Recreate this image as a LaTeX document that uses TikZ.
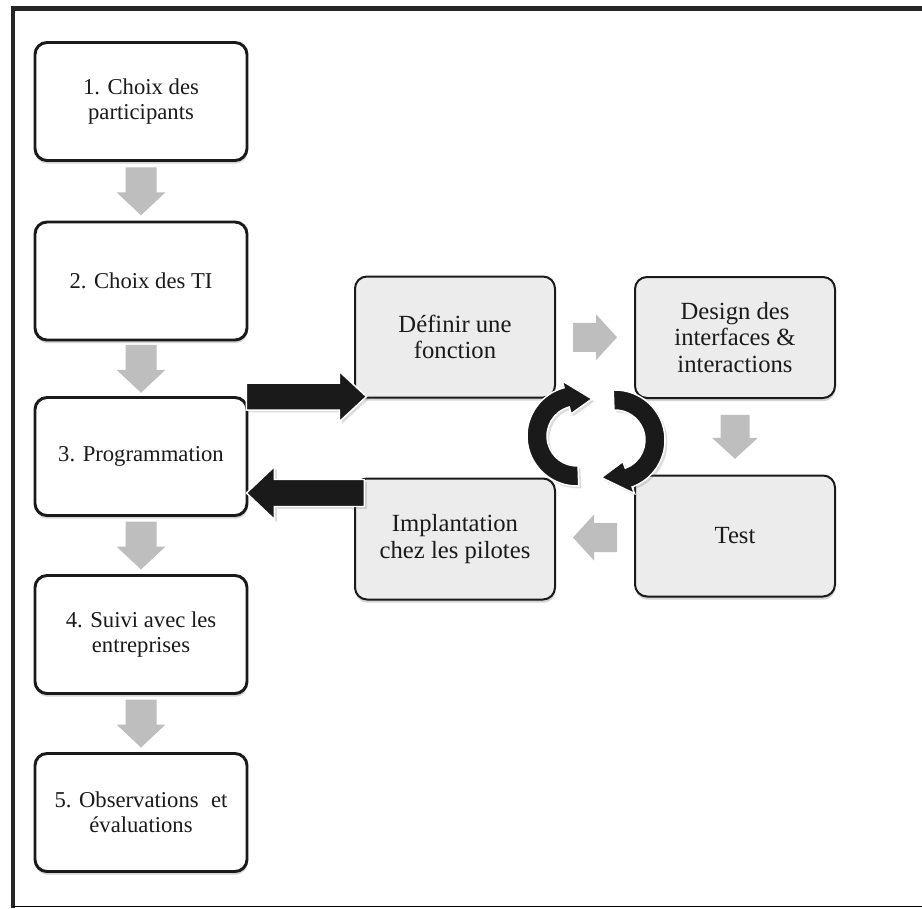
\documentclass[tikz,border=0pt]{standalone}
\usepackage{fontspec}
\setmainfont{Liberation Serif}
\usetikzlibrary{calc,shadows}

\definecolor{ink}{HTML}{1A1A1A}
\definecolor{panel}{HTML}{ECECEC}
\definecolor{flow}{HTML}{BEBEBE}
\definecolor{frameline}{HTML}{262626}
\definecolor{baseline}{HTML}{C8C8C8}

\tikzset{
  softshadow/.style={drop shadow={shadow xshift=0.4pt, shadow yshift=-2.4pt, opacity=0.28, fill=black!60}},
  stage/.style={draw=ink, line width=2.2pt, fill=white, rounded corners=9pt,
    minimum width=159pt, minimum height=88.5pt, align=center, text=ink,
    inner sep=2pt, font=\fontsize{17}{19}\selectfont, softshadow},
  cyclebox/.style={draw=ink, line width=1.5pt, fill=panel, rounded corners=9pt,
    minimum width=150pt, minimum height=90.75pt, align=center, text=ink,
    inner sep=2pt, font=\fontsize{18.5}{20}\selectfont, softshadow},
  bigarrow/.style={fill=ink, draw=white, line width=1.1pt,
    drop shadow={shadow xshift=1.8pt, shadow yshift=-1.8pt, opacity=0.22, fill=black!60}},
  colarrow/.pic={\fill[flow] (-24,-15.5) -- (1,-15.5) -- (1,-24.5) -- (24,0)
    -- (1,24.5) -- (1,15.5) -- (-24,15.5) -- cycle;},
  cyclearrow/.pic={\fill[flow] (-22,-14.5) -- (1,-14.5) -- (1,-23) -- (22,0)
    -- (1,23) -- (1,14.5) -- (-22,14.5) -- cycle;}
}

\begin{document}
\begin{tikzpicture}[x=0.75pt, y=-0.75pt]
  % canvas and frame
  \fill[white] (0,0) rectangle (922,908);
  \useasboundingbox (0,0) rectangle (922,908);
  \draw[frameline, line width=3.75pt] (11,8.5) -- (922,8.5);
  \draw[frameline, line width=3pt] (13,6) -- (13,908);
  \draw[baseline, line width=1.1pt] (13,906.5) -- (922,906.5);

  % main sequence of stages
  \node[stage] (s1) at (141,101.5) {1. Choix des\\participants};
  \node[stage] (s2) at (141,281)   {2. Choix des TI};
  \node[stage] (s3) at (141,456.5) {3. Programmation};
  \node[stage] (s4) at (141,634.5) {4. Suivi avec les\\entreprises};
  \node[stage] (s5) at (141,812.5) {5. Observations\hspace{0.3em} et\\évaluations};

  \pic[rotate=-90] at ($(s1.south)!0.5!(s2.north)$) {colarrow};
  \pic[rotate=-90] at ($(s2.south)!0.5!(s3.north)$) {colarrow};
  \pic[rotate=-90] at ($(s3.south)!0.5!(s4.north)$) {colarrow};
  \pic[rotate=-90] at ($(s4.south)!0.5!(s5.north)$) {colarrow};

  % development cycle
  \node[cyclebox] (def)    at (455,337)   {Définir une\\fonction};
  \node[cyclebox] (design) at (735,337.5) {Design des\\interfaces \&\\interactions};
  \node[cyclebox] (test)   at (735,536)   {Test};
  \node[cyclebox] (impl)   at (455,539)   {Implantation\\chez les pilotes};

  \pic at ($(def.east)!0.5!(design.west)$) {cyclearrow};
  \pic[rotate=-90] at ($(design.south)!0.5!(test.north)$) {cyclearrow};
  \pic[rotate=180] at ($(test.west)!0.5!(impl.east)$) {cyclearrow};

  % links between programming and the cycle
  \path[bigarrow] ($(s3.north east)+(-2,-13)$) -- ++(93,0) -- ++(0,-11.5)
    -- ++(27,25) -- ++(-27,25) -- ++(0,-11.5) -- ++(-93,0) -- cycle;
  \path[bigarrow] ($(s3.east)+(-2,36.5)$) -- ++(28,-26.5) -- ++(0,13)
    -- ++(90,0) -- ++(0,27) -- ++(-90,0) -- ++(0,13) -- cycle;

  % circular arrows in the middle of the cycle
  \begin{scope}[shift={(577,436)}, x=0.75pt, y=0.75pt]
    \path[bigarrow] (272:50) arc[start angle=272, end angle=105, radius=50]
      -- (105:57) -- (68:40) -- (105:23) -- (105:30)
      arc[start angle=105, end angle=272, radius=30] -- cycle;
  \end{scope}
  \begin{scope}[shift={(615,440)}, x=0.75pt, y=0.75pt]
    \path[bigarrow] (92:50) arc[start angle=92, end angle=-70, radius=50]
      -- (-70:57) -- (-110:40) -- (-70:23) -- (-70:30)
      arc[start angle=-70, end angle=92, radius=30] -- cycle;
  \end{scope}
\end{tikzpicture}
\end{document}
